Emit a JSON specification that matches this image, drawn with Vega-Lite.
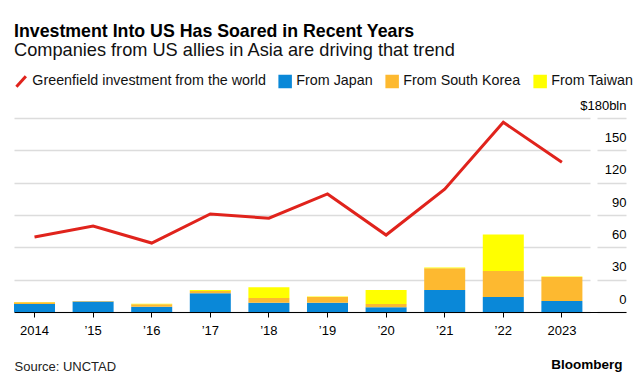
{
  "$schema": "https://vega.github.io/schema/vega-lite/v6.json",
  "width": 612,
  "height": 194,
  "autosize": "none",
  "padding": {"left": 14, "right": 14, "top": 118, "bottom": 74},
  "background": "white",
  "config": {"font": "Liberation Sans", "view": {"stroke": null}},
  "title": {
    "text": "Investment Into US Has Soared in Recent Years",
    "subtitle": "Companies from US allies in Asia are driving that trend",
    "anchor": "start",
    "frame": "group",
    "fontSize": 17.75,
    "fontWeight": "bold",
    "color": "#000",
    "subtitleFontSize": 18.2,
    "subtitleColor": "#111",
    "subtitlePadding": 1,
    "offset": 15
  },
  "datasets": {
    "bars": [
      {"year": "2014", "series": "From Japan", "value": 7.4},
      {"year": "2014", "series": "From South Korea", "value": 1.6},
      {"year": "2014", "series": "From Taiwan", "value": 0.3},
      {"year": "2015", "series": "From Japan", "value": 9.8},
      {"year": "2015", "series": "From South Korea", "value": 0.3},
      {"year": "2015", "series": "From Taiwan", "value": 0.2},
      {"year": "2016", "series": "From Japan", "value": 4.9},
      {"year": "2016", "series": "From South Korea", "value": 2.3},
      {"year": "2016", "series": "From Taiwan", "value": 0.5},
      {"year": "2017", "series": "From Japan", "value": 17.5},
      {"year": "2017", "series": "From South Korea", "value": 2},
      {"year": "2017", "series": "From Taiwan", "value": 0.8},
      {"year": "2018", "series": "From Japan", "value": 8.5},
      {"year": "2018", "series": "From South Korea", "value": 4.5},
      {"year": "2018", "series": "From Taiwan", "value": 10},
      {"year": "2019", "series": "From Japan", "value": 8.5},
      {"year": "2019", "series": "From South Korea", "value": 5.5},
      {"year": "2019", "series": "From Taiwan", "value": 0.4},
      {"year": "2020", "series": "From Japan", "value": 4.5},
      {"year": "2020", "series": "From South Korea", "value": 3},
      {"year": "2020", "series": "From Taiwan", "value": 13},
      {"year": "2021", "series": "From Japan", "value": 20.5},
      {"year": "2021", "series": "From South Korea", "value": 20},
      {"year": "2021", "series": "From Taiwan", "value": 0.7},
      {"year": "2022", "series": "From Japan", "value": 13.9},
      {"year": "2022", "series": "From South Korea", "value": 24.1},
      {"year": "2022", "series": "From Taiwan", "value": 34},
      {"year": "2023", "series": "From Japan", "value": 10.2},
      {"year": "2023", "series": "From South Korea", "value": 22.3},
      {"year": "2023", "series": "From Taiwan", "value": 0.4}
    ],
    "world": [
      {"year": "2014", "series": "Greenfield investment from the world", "value": 69.6},
      {"year": "2015", "series": "Greenfield investment from the world", "value": 79.8},
      {"year": "2016", "series": "Greenfield investment from the world", "value": 64},
      {"year": "2017", "series": "Greenfield investment from the world", "value": 91},
      {"year": "2018", "series": "Greenfield investment from the world", "value": 87},
      {"year": "2019", "series": "Greenfield investment from the world", "value": 109.5},
      {"year": "2020", "series": "Greenfield investment from the world", "value": 71.4},
      {"year": "2021", "series": "Greenfield investment from the world", "value": 114},
      {"year": "2022", "series": "Greenfield investment from the world", "value": 176},
      {"year": "2023", "series": "Greenfield investment from the world", "value": 139}
    ]
  },
  "encoding": {
    "x": {
      "field": "year",
      "type": "ordinal",
      "scale": {"paddingInner": 0.3, "paddingOuter": 0.372, "align": 0},
      "axis": {
        "title": "Source: UNCTAD",
        "titleAnchor": "start",
        "titleAlign": "left",
        "titleFontSize": 13,
        "titleFontWeight": "normal",
        "titleColor": "#222",
        "titlePadding": 23,
        "labelAngle": 0,
        "labelFontSize": 13,
        "labelColor": "#000",
        "labelPadding": 7,
        "tickSize": 5,
        "tickColor": "#000",
        "domainColor": "#000",
        "domainWidth": 1,
        "labelExpr": "datum.value == '2014' || datum.value == '2023' ? datum.value : '’' + substring(datum.value, 2)"
      }
    },
    "y": {
      "field": "value",
      "type": "quantitative",
      "scale": {"domain": [0, 180], "nice": false},
      "axis": {
        "orient": "right",
        "values": [0, 30, 60, 90, 120, 150, 180],
        "grid": true,
        "gridColor": "#dcdcdc",
        "gridWidth": 1.5,
        "gridDash": [29, 7, 700, 0],
        "domain": false,
        "ticks": false,
        "labelAlign": "right",
        "labelBaseline": "alphabetic",
        "labelOffset": -9,
        "labelPadding": 0,
        "labelFontSize": 13,
        "labelColor": "#000",
        "labelExpr": "datum.value == 180 ? '$180bln' : datum.label",
        "title": "Bloomberg",
        "titleAngle": 0,
        "titleX": -4,
        "titleY": 246,
        "titleAlign": "right",
        "titleBaseline": "middle",
        "titleFontSize": 13.5,
        "titleFontWeight": "bold",
        "titleColor": "#000"
      }
    },
    "color": {
      "field": "series",
      "type": "nominal",
      "scale": {
        "domain": ["Greenfield investment from the world", "From Japan", "From South Korea", "From Taiwan"],
        "range": ["#e0231c", "#0a88d8", "#fdb930", "#ffff00"]
      },
      "legend": {
        "orient": "none",
        "legendX": 0,
        "legendY": -44,
        "direction": "horizontal",
        "columns": 4,
        "title": null,
        "labelFontSize": 14.3,
        "labelColor": "#111",
        "labelLimit": 400,
        "symbolSize": 110,
        "labelOffset": 4,
        "columnPadding": 7,
        "encode": {
          "symbols": {
            "update": {
              "shape": {"signal": "datum.value == 'Greenfield investment from the world' ? 'M-0.9,1L0.9,-1' : 'square'"},
              "fill": {"signal": "datum.value == 'Greenfield investment from the world' ? 'transparent' : scale('color', datum.value)"},
              "stroke": {"signal": "datum.value == 'Greenfield investment from the world' ? '#e0231c' : 'transparent'"},
              "strokeWidth": {"value": 3},
              "opacity": {"value": 1},
              "fillOpacity": {"value": 1}
            }
          }
        }
      }
    }
  },
  "layer": [
    {
      "data": {"name": "bars"},
      "mark": {"type": "bar"},
      "encoding": {"order": {"field": "series", "sort": "ascending"}}
    },
    {
      "data": {"name": "world"},
      "mark": {"type": "line", "strokeWidth": 3, "strokeJoin": "miter"}
    }
  ]
}
